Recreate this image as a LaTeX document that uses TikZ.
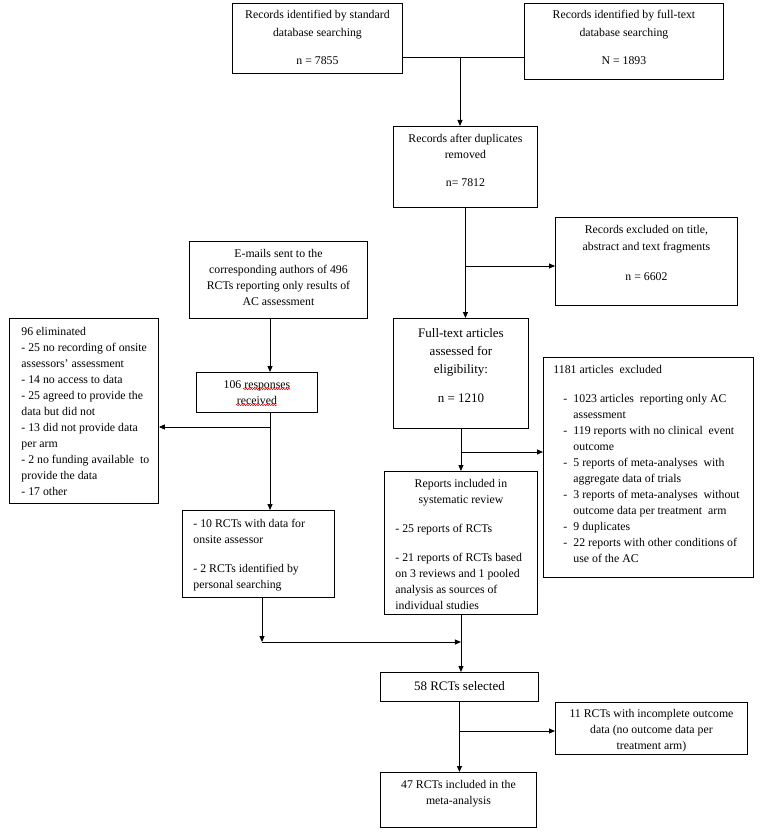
\documentclass[tikz,border=0pt]{standalone}
\usepackage{fontspec}
\setmainfont{Liberation Serif}
\usetikzlibrary{arrows.meta,decorations.pathmorphing}

\newcommand{\cbox}[3]{\parbox[c][#2][t]{#1}{\centering #3}}
\newcommand{\lbox}[4]{\parbox[c][#2][t]{#1}{\raggedright\leftskip=#3 #4}}
\newcommand{\dl}{\makebox[10pt][l]{-}}
\newcommand{\il}{\hspace*{10pt}}

\tikzset{
    box/.style={draw, line width=0.9pt, inner sep=0pt, anchor=north west,
        font=\fontsize{11.8}{16}\selectfont},
    bigbox/.style={box, font=\fontsize{13}{18}\selectfont},
    lnk/.style={line width=0.9pt},
    arr/.style={lnk, -{Triangle[length=6pt,width=5pt]}},
    wave/.style={red, line width=0.5pt, decorate,
        decoration={snake, amplitude=0.8pt, segment length=2.5pt}}
}

\begin{document}
\begin{tikzpicture}[x=1pt, y=-1pt]
    \useasboundingbox (0,0) rectangle (769,834);

    % Searches
    \node[box] (std) at (232,3) {\cbox{170pt}{70pt}{\rule{0pt}{15pt}Records identified by standard\\[2pt] database searching\\[12pt] n = 7855}};
    \node[box] (full) at (524,3) {\cbox{199pt}{76pt}{\rule{0pt}{15pt}Records identified by full-text\\[2pt] database searching\\[12pt] N = 1893}};
    \node[box] (dup) at (393,126) {\cbox{144pt}{81pt}{\rule{0pt}{16pt}Records after duplicates\\ removed\\[12pt] n= 7812}};
    \node[box] (excla) at (555,217) {\cbox{182pt}{88pt}{\rule{0pt}{16pt}Records excluded on title,\\[1pt] abstract and text fragments\\[14pt] n = 6602}};

    % Author contact
    \node[box] (mail) at (189,241) {\cbox{178pt}{77pt}{\rule{0pt}{16pt}E-mails sent to the\\ corresponding authors of 496\\ RCTs reporting only results of\\ AC assessment}};
    \node[box] (resp) at (196,372) {\cbox{121pt}{40pt}{\rule{0pt}{16pt}106 responses\\ received}};
    \node[box] (elim) at (9,318) {\lbox{149pt}{185pt}{12pt}{\rule{0pt}{17pt}96 eliminated\\ - 25 no recording of onsite\\ assessors' assessment\\ - 14 no access to data\\ - 25 agreed to provide the\\ data but did not\\ - 13 did not provide data\\ per arm\\ - 2 no funding available~ to\\ provide the data\\ - 17 other}};
    \node[box] (rct) at (182,510) {\lbox{152pt}{87pt}{11pt}{\rule{0pt}{17pt}- 10 RCTs with data for\\ onsite assessor\\[13pt] - 2 RCTs identified by\\ personal searching}};

    % Spelling marks
    \draw[wave] ([shift={(47,17)}]resp.north west) -- ++(47,0);
    \draw[wave] ([shift={(40,33)}]resp.north west) -- ++(41,0);

    % Full texts
    \node[bigbox] (ft) at (393,318) {\cbox{135pt}{110pt}{\rule{0pt}{19.5pt}Full-text articles\\ assessed for\\ eligibility:\\[11pt] n = 1210}};
    \node[box] (exclb) at (543,357) {\lbox{210pt}{220pt}{10pt}{\rule{0pt}{16pt}1181 articles~ excluded\\[13pt]
        \il\dl 1023 articles~ reporting only AC\\
        \il\il assessment\\
        \il\dl 119 reports with no clinical~ event\\
        \il\il outcome\\
        \il\dl 5 reports of meta-analyses~ with\\
        \il\il aggregate data of trials\\
        \il\dl 3 reports of meta-analyses~ without\\
        \il\il outcome data per treatment~ arm\\
        \il\dl 9 duplicates\\
        \il\dl 22 reports with other conditions of\\
        \il\il use of the AC}};
    \node[box] (rep) at (384,471) {\parbox[c][143pt][t]{153pt}{\centering\rule{0pt}{16pt}Reports included in\\ systematic review\par
        \raggedright\leftskip=11pt
        \vspace{13pt}- 25 reports of RCTs\par
        \vspace{13pt}- 21 reports of RCTs based\\ on 3 reviews and 1 pooled\\ analysis as sources of\\ individual studies}};

    % Selection
    \node[bigbox] (sel) at (380,672) {\cbox{158pt}{29pt}{\rule{0pt}{18.5pt}58 RCTs selected}};
    \node[box] (inc) at (555,702) {\cbox{192pt}{52pt}{\rule{0pt}{15pt}11 RCTs with incomplete outcome\\ data (no outcome data per\\ treatment arm)}};
    \node[box] (fin) at (380,772) {\cbox{156pt}{55pt}{\rule{0pt}{16pt}47 RCTs included in the\\ meta-analysis}};

    % Branch points
    \coordinate (jt) at (460,57);
    \coordinate (ba) at (465,266);
    \coordinate (bb) at (461,452);
    \coordinate (cx) at (270,0);
    \coordinate (bc) at (270,427);
    \coordinate (mg) at (262,642);
    \coordinate (bd) at (459,731);

    % Connectors
    \draw[lnk] (std.east |- jt) -- (full.west |- jt);
    \draw[arr] (jt) -- (jt |- dup.north);
    \draw[arr] (dup.south) -- (dup.south |- ft.north);
    \draw[arr] (ba) -- (ba -| excla.west);
    \draw[arr] (ft.south) -- (ft.south |- rep.north);
    \draw[arr] (bb) -- (bb -| exclb.west);
    \draw[arr] (cx |- mail.south) -- (cx |- resp.north);
    \draw[arr] (cx |- resp.south) -- (cx |- rct.north);
    \draw[arr] (bc) -- (bc -| elim.east);
    \draw[arr] (mg |- rct.south) -- (mg);
    \draw[arr] (mg) -- (mg -| rep.south);
    \draw[arr] (rep.south) -- (rep.south |- sel.north);
    \draw[arr] (sel.south) -- (sel.south |- fin.north);
    \draw[arr] (bd) -- (bd -| inc.west);
\end{tikzpicture}
\end{document}
